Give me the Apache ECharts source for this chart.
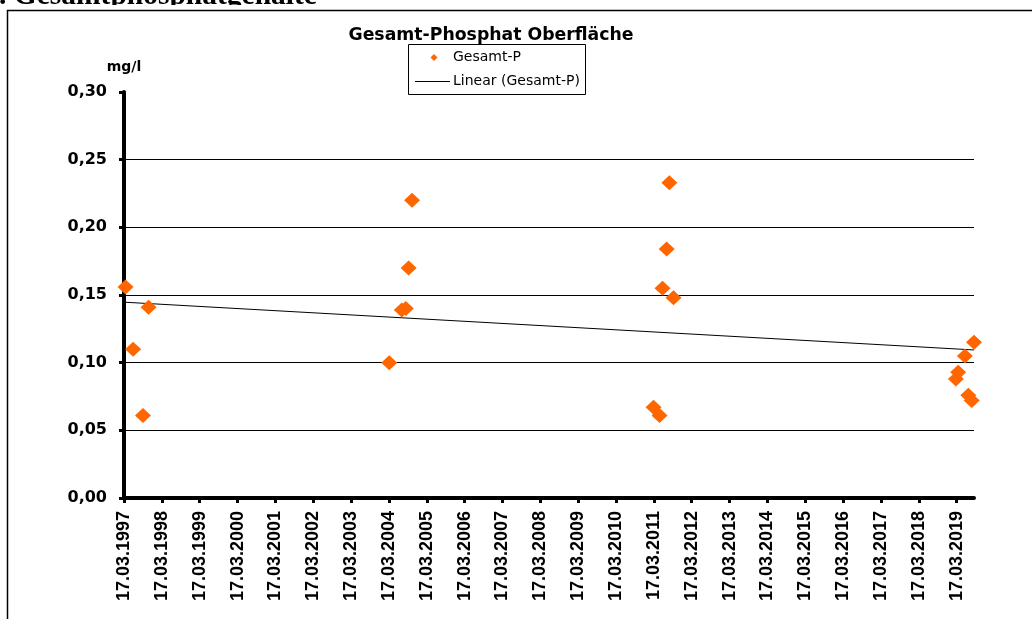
<!DOCTYPE html>
<html>
<head>
<meta charset="utf-8">
<script src="https://cdn.jsdelivr.net/npm/echarts@6/dist/echarts.min.js"></script>
<style>
html,body{margin:0;padding:0;background:#fff;}
#chart{width:1032px;height:619px;}
</style>
</head>
<body>
<div id="chart"></div>
<script>
// ---- data ----
const sampleDates = ['01.04.1997','13.06.1997','16.09.1997','09.11.1997',
  '20.03.2004','19.07.2004','27.08.2004','23.09.2004','26.10.2004',
  '14.03.2011','11.05.2011','09.06.2011','19.07.2011','14.08.2011','23.09.2011',
  '10.03.2019','01.04.2019','05.06.2019','08.07.2019','10.08.2019','01.09.2019'];
const gesamtP = [0.156,0.110,0.061,0.141,
  0.100,0.139,0.140,0.170,0.220,
  0.067,0.061,0.155,0.184,0.233,0.148,
  0.088,0.093,0.105,0.076,0.072,0.115];
const tickYears = [1997,1998,1999,2000,2001,2002,2003,2004,2005,2006,2007,2008,
  2009,2010,2011,2012,2013,2014,2015,2016,2017,2018,2019];
const yTicks = [0,0.05,0.10,0.15,0.20,0.25,0.30];
const chartTitle = 'Gesamt-Phosphat Oberfläche';
const seriesName = 'Gesamt-P';
const trendName = 'Linear (Gesamt-P)';
const unitLabel = 'mg/l';
const headerText = '. Gesamtphosphatgehalte';

// date "dd.mm.yyyy" -> years since 17.03.1997 (each 17.03 is one whole unit)
function toOffset(s){
  const p = s.split('.').map(Number);
  const t = Date.UTC(p[2], p[1]-1, p[0]);
  let base = p[2];
  if (t < Date.UTC(base, 2, 17)) base -= 1;
  const s0 = Date.UTC(base, 2, 17), s1 = Date.UTC(base+1, 2, 17);
  return base - 1997 + (t - s0) / (s1 - s0);
}
const pts = sampleDates.map((d,i) => [toOffset(d), gesamtP[i]]);
const maxX = Math.max.apply(null, pts.map(p => p[0]));

// least squares trend
const n = pts.length;
const mx = pts.reduce((a,p)=>a+p[0],0)/n;
const my = pts.reduce((a,p)=>a+p[1],0)/n;
let sxy=0,sxx=0;
pts.forEach(p=>{sxy+=(p[0]-mx)*(p[1]-my);sxx+=(p[0]-mx)*(p[0]-mx);});
const slope = sxy/sxx, icpt = my - slope*mx;
const trend = [[0, icpt],[maxX, icpt + slope*maxX]];

const tickVals = tickYears.map(y => y - 1997);

const chart = echarts.init(document.getElementById('chart'), null, {renderer:'canvas'});
chart.setOption({
  animation:false,
  backgroundColor:'#fff',
  title:{
    text: chartTitle,
    left: 486, top: 22, textAlign:'center',
    textStyle:{fontFamily:'DejaVu Sans', fontWeight:'bold', fontSize:17.3, color:'#000'}
  },
  legend:{show:false},
  grid:{left:124, right:58, top:92, bottom:121, containLabel:false},
  xAxis:{
    type:'value', min:0, max:maxX,
    splitLine:{show:false},
    axisLine:{show:true, onZero:false, lineStyle:{color:'#000', width:4}},
    axisTick:{show:true, length:5, inside:false, customValues:tickVals, lineStyle:{color:'#000', width:3}},
    axisLabel:{
      customValues:tickVals,
      rotate:90, margin:13,
      fontFamily:'Liberation Sans', fontWeight:'bold', fontSize:18, color:'#000',
      formatter: v => '17.03.' + (1997 + Math.round(v))
    }
  },
  yAxis:{
    type:'value', min:0, max:0.3, interval:0.05,
    name: unitLabel, nameLocation:'end', nameGap:18,
    nameTextStyle:{fontFamily:'DejaVu Sans', fontWeight:'bold', fontSize:14, color:'#000', align:'center'},
    axisLine:{show:true, lineStyle:{color:'#000', width:4}},
    axisTick:{show:true, length:5, inside:false, lineStyle:{color:'#000', width:3}},
    splitLine:{show:true, showMaxLine:false, showMinLine:false, lineStyle:{color:'#000', width:1}},
    axisLabel:{
      margin:17,
      fontFamily:'DejaVu Sans', fontWeight:'bold', fontSize:16, color:'#000',
      formatter: v => v.toFixed(2).replace('.', ',')
    }
  },
  graphic:[
    {type:'text', x:0, y:0, z:1,
     style:{x:-1, y:11, verticalAlign:'bottom', align:'left', text:headerText, font:'bold 29.5px "Liberation Serif"', fill:'#000'}},
    {type:'rect', shape:{x:0,y:5,width:1032,height:6}, style:{fill:'#fff'}, z:2},
    {type:'rect', shape:{x:7.5,y:10.5,width:1100,height:700}, style:{fill:'none', stroke:'#000', lineWidth:1.5}, z:3},
    // legend box
    {type:'group', z:10, children:[
      {type:'rect', shape:{x:408.5,y:44.5,width:177,height:50}, style:{fill:'#fff', stroke:'#000', lineWidth:1}},
      {type:'polygon', shape:{points:[[430.5,57.5],[434,54],[437.5,57.5],[434,61]]}, style:{fill:'#FF6600'}},
      {type:'text', style:{x:453, y:57.5, text:seriesName, verticalAlign:'middle', font:'14px "DejaVu Sans"', fill:'#000'}},
      {type:'line', shape:{x1:415, y1:81.5, x2:450, y2:81.5}, style:{stroke:'#000', lineWidth:1}},
      {type:'text', style:{x:453, y:81, text:trendName, verticalAlign:'middle', font:'14px "DejaVu Sans"', fill:'#000'}}
    ]}
  ],
  series:[
    {
      name: trendName, type:'line', data: trend, showSymbol:false, symbol:'none',
      lineStyle:{color:'#000', width:1}, itemStyle:{color:'#000'}, z:3
    },
    {
      name: seriesName, type:'scatter', data: pts, symbol:'diamond', symbolSize:[16,15],
      itemStyle:{color:'#FF6600', opacity:1}, z:4
    }
  ]
});
</script>
</body>
</html>
